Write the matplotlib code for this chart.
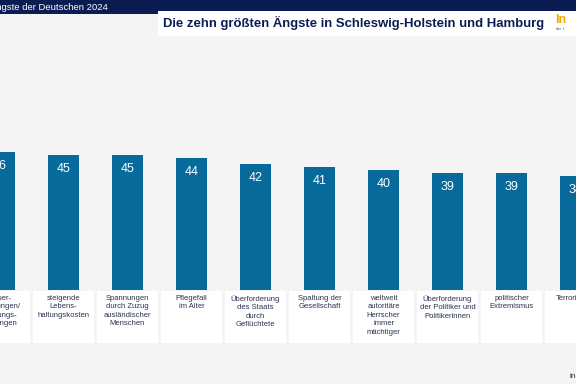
import matplotlib.pyplot as plt
from matplotlib.patches import Rectangle

plt.rcParams['font.family'] = ['Liberation Sans', 'DejaVu Sans']

# data
categories = [
    "Steuer-\nerhöhungen/\nLeistungs-\nkürzungen",
    "steigende\nLebens-\nhaltungskosten",
    "Spannungen\ndurch Zuzug\nausländischer\nMenschen",
    "Pflegefall\nim Alter",
    "Überforderung\ndes Staats\ndurch\nGeflüchtete",
    "Spaltung der\nGesellschaft",
    "weltweit\nautoritäre\nHerrscher\nimmer\nmächtiger",
    "Überforderung\nder Politiker und\nPolitikerinnen",
    "politischer\nExtremismus",
    "Terrorismus",
]
values = [46, 45, 45, 44, 42, 41, 40, 39, 39, 38]

header = "Die Ängste der Deutschen 2024"
title = "Die zehn größten Ängste in Schleswig-Holstein und Hamburg"

bg = "#f4f4f4"
navy = "#0b1c52"
bar_col = "#076a9a"
txt_col = "#2a3350"

fig = plt.figure(figsize=(5.76, 3.84), dpi=100, facecolor=bg)
ax = fig.add_axes([0, 0, 1, 1])
ax.set_facecolor(bg)
ax.set_xlim(0.5 / 64, 576.5 / 64)
ax.set_ylim(-94 / 3, 290 / 3)
ax.axis("off")

x = list(range(len(values)))
ax.bar(x, values, width=0.485, color=bar_col, zorder=2)

for i, v in enumerate(values):
    ax.text(i, v - 4.6, str(v), ha="center", va="center", color="white",
            fontsize=9, zorder=3)
    # white label box under each bar
    ax.add_patch(Rectangle((i - 0.478, -17.7), 0.956, 17.4, facecolor="white",
                           edgecolor="none", zorder=1))
    ax.text(i, -1.6, categories[i], ha="center", va="top", color=txt_col,
            fontsize=5.5, linespacing=1.3, zorder=3)

# header band
fig.patches.append(Rectangle((0, 1 - 14 / 384), 1, 14 / 384, transform=fig.transFigure,
                             facecolor=navy, edgecolor="none", zorder=0))
fig.text(108 / 576, 1 - 7 / 384, header, ha="right", va="center", color="white",
         fontsize=6.8)
# title box
fig.patches.append(Rectangle((158 / 576, 1 - 36 / 384), 420 / 576, 25 / 384,
                             transform=fig.transFigure, facecolor="white",
                             edgecolor="none", zorder=1))
fig.text(163 / 576, 1 - 23 / 384, title, ha="left", va="center", color=navy,
         fontsize=9.45, fontweight="bold", zorder=2)
fig.text(555 / 576, 1 - 20 / 384, "In", ha="left", va="center", color="#f2a900",
         fontsize=9, fontweight="bold", zorder=2)
fig.text(556 / 576, 1 - 29.5 / 384, "der I", ha="left", va="center", color="#555555",
         fontsize=2.8, zorder=2)
fig.text(570 / 576, 1 - 376 / 384, "in", ha="left", va="center", color=txt_col,
         fontsize=6)

fig.savefig("out.png", dpi=100, facecolor=bg)
